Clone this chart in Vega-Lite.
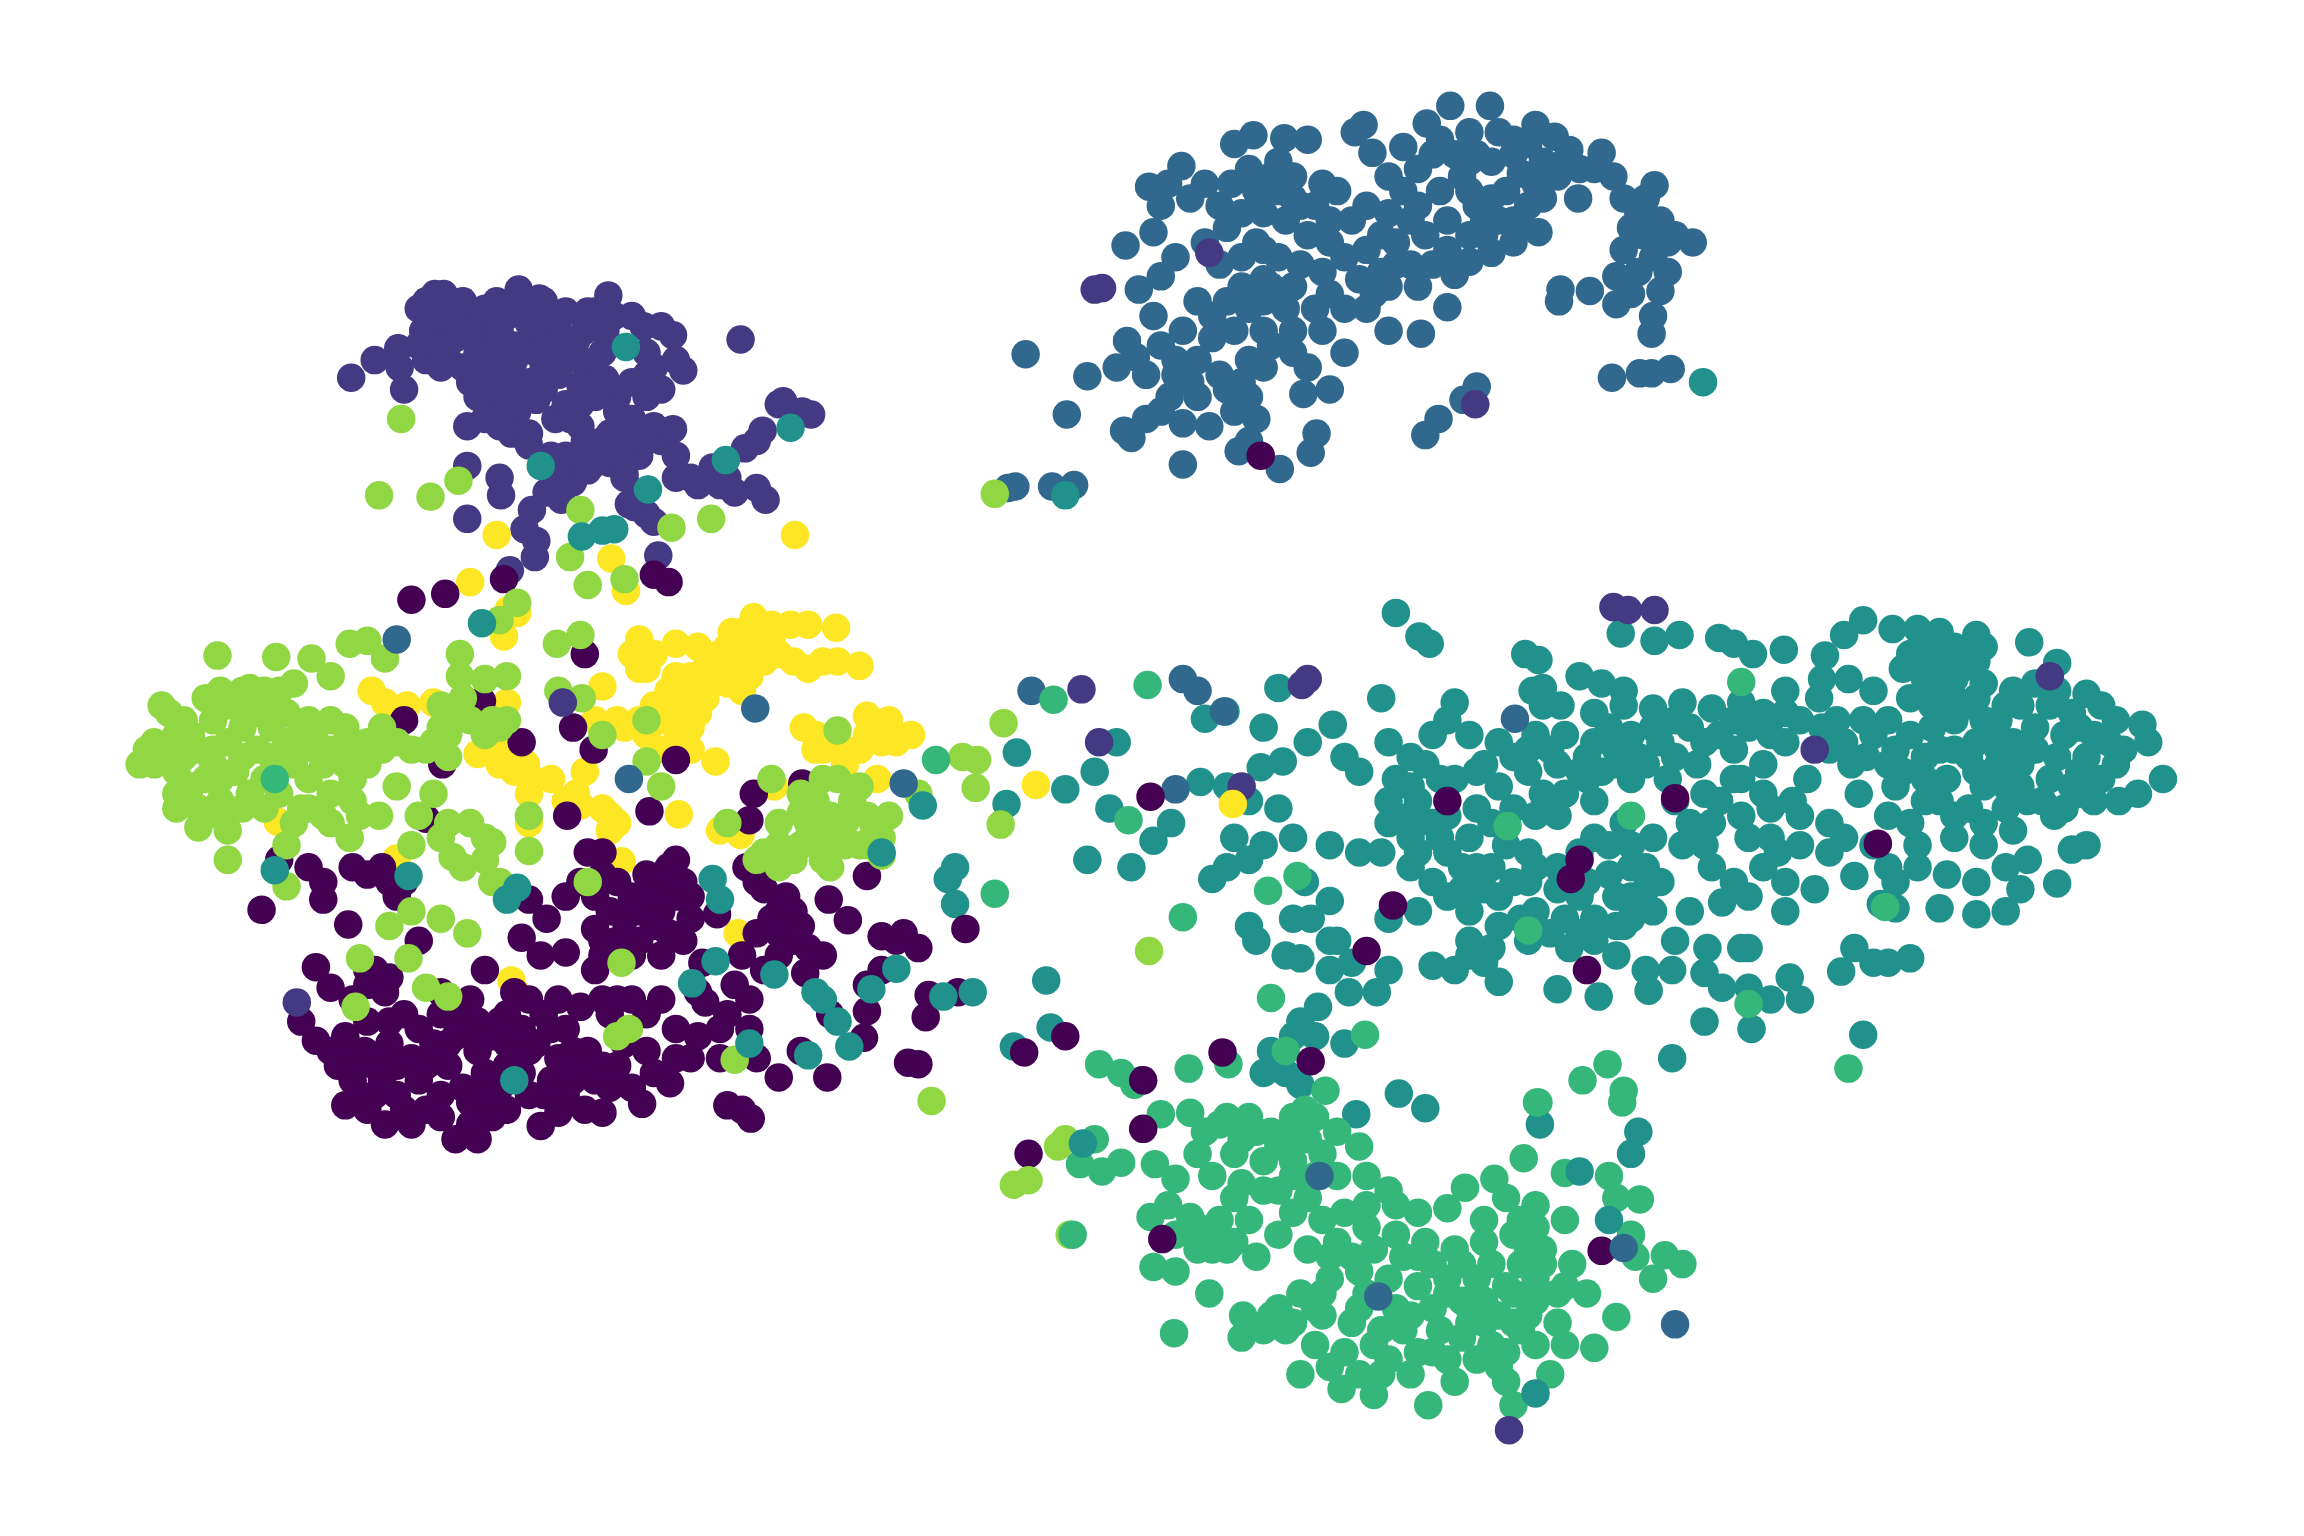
{"$schema":"https://vega.github.io/schema/vega-lite/v6.json","autosize":{"type":"fit","contains":"padding"},"width":2304,"height":1536,"padding":0,"config":{"view":{"stroke":null}},
"data":{"values":[
{"x":1005,"y":105,"c":2},{"x":1030,"y":105,"c":2},{"x":1045,"y":85,"c":2},{"x":990,"y":105,"c":2},{"x":965,"y":140,"c":2},{"x":940,"y":160,"c":2},{"x":915,"y":175,"c":2},{"x":885,"y":140,"c":2},{"x":865,"y":120,"c":2},{"x":845,"y":145,"c":2},{"x":810,"y":135,"c":2},{"x":855,"y":130,"c":2},{"x":895,"y":140,"c":2},{"x":830,"y":140,"c":2},{"x":980,"y":130,"c":2},{"x":1000,"y":130,"c":2},{"x":1030,"y":150,"c":2},{"x":1010,"y":160,"c":2},{"x":985,"y":170,"c":2},{"x":975,"y":180,"c":2},{"x":950,"y":180,"c":2},{"x":935,"y":200,"c":2},{"x":915,"y":210,"c":2},{"x":895,"y":210,"c":2},{"x":880,"y":225,"c":2},{"x":860,"y":250,"c":2},{"x":845,"y":260,"c":2},{"x":825,"y":215,"c":2},{"x":790,"y":235,"c":2},{"x":815,"y":270,"c":2},{"x":800,"y":255,"c":2},{"x":865,"y":195,"c":2},{"x":850,"y":210,"c":2},{"x":835,"y":205,"c":2},{"x":1120,"y":135,"c":2},{"x":1135,"y":165,"c":2},{"x":1110,"y":155,"c":2},{"x":1115,"y":185,"c":2},{"x":1065,"y":110,"c":2},{"x":1075,"y":115,"c":2},{"x":1030,"y":95,"c":2},{"x":1050,"y":135,"c":2},{"x":1035,"y":150,"c":2},{"x":1020,"y":150,"c":2},{"x":1000,"y":160,"c":2},
{"x":290,"y":205,"c":1},{"x":308,"y":210,"c":1},{"x":322,"y":215,"c":1},{"x":338,"y":205,"c":1},{"x":350,"y":205,"c":1},{"x":360,"y":210,"c":1},{"x":295,"y":225,"c":1},{"x":310,"y":220,"c":1},{"x":328,"y":225,"c":1},{"x":350,"y":245,"c":1},{"x":335,"y":245,"c":1},{"x":320,"y":260,"c":1},{"x":305,"y":245,"c":1},{"x":290,"y":245,"c":1},{"x":370,"y":250,"c":1},{"x":385,"y":245,"c":1},{"x":370,"y":265,"c":1},{"x":350,"y":270,"c":1},{"x":335,"y":270,"c":1},{"x":378,"y":285,"c":1},{"x":400,"y":255,"c":1},{"x":412,"y":258,"c":1},{"x":420,"y":270,"c":1},{"x":440,"y":255,"c":1},{"x":445,"y":250,"c":1},{"x":398,"y":300,"c":1},{"x":405,"y":315,"c":1},{"x":435,"y":310,"c":1},{"x":445,"y":290,"c":1},{"x":450,"y":300,"c":1},{"x":365,"y":225,"c":1},{"x":380,"y":225,"c":1},{"x":392,"y":232,"c":1},{"x":405,"y":212,"c":1},{"x":418,"y":215,"c":1},{"x":430,"y":300,"c":1},{"x":415,"y":315,"c":1},{"x":395,"y":290,"c":1},{"x":375,"y":310,"c":1},{"x":375,"y":320,"c":1},{"x":390,"y":328,"c":1},{"x":382,"y":340,"c":1},{"x":490,"y":330,"c":1},{"x":460,"y":325,"c":1},{"x":530,"y":275,"c":1},{"x":515,"y":300,"c":1},{"x":352,"y":280,"c":1},{"x":348,"y":295,"c":1},{"x":325,"y":270,"c":1},{"x":435,"y":335,"c":1},{"x":432,"y":345,"c":1},
{"x":1315,"y":440,"c":3},{"x":1330,"y":440,"c":3},{"x":1340,"y":445,"c":3},{"x":1305,"y":455,"c":3},{"x":1320,"y":455,"c":3},{"x":1335,"y":455,"c":3},{"x":1315,"y":465,"c":3},{"x":1330,"y":475,"c":3},{"x":1345,"y":475,"c":3},{"x":1350,"y":490,"c":3},{"x":1365,"y":480,"c":3},{"x":1375,"y":480,"c":3},{"x":1395,"y":480,"c":3},{"x":1410,"y":485,"c":3},{"x":1415,"y":495,"c":3},{"x":1425,"y":500,"c":3},{"x":1435,"y":505,"c":3},{"x":1445,"y":510,"c":3},{"x":1430,"y":530,"c":3},{"x":1415,"y":525,"c":3},{"x":1400,"y":515,"c":3},{"x":1385,"y":510,"c":3},{"x":1370,"y":505,"c":3},{"x":1355,"y":500,"c":3},{"x":1340,"y":515,"c":3},{"x":1330,"y":510,"c":3},{"x":1350,"y":535,"c":3},{"x":1360,"y":520,"c":3},{"x":1375,"y":535,"c":3},{"x":1390,"y":545,"c":3},{"x":1405,"y":550,"c":3},{"x":1415,"y":540,"c":3},{"x":1320,"y":545,"c":3},{"x":1330,"y":555,"c":3},{"x":1350,"y":560,"c":3},{"x":1365,"y":550,"c":3},{"x":1310,"y":530,"c":3},{"x":1295,"y":525,"c":3},{"x":1285,"y":520,"c":3},{"x":1300,"y":500,"c":3},{"x":1315,"y":495,"c":3},{"x":1275,"y":500,"c":3},{"x":1255,"y":505,"c":3},{"x":1215,"y":485,"c":3},{"x":1205,"y":500,"c":3},{"x":1190,"y":495,"c":3},{"x":1170,"y":500,"c":3},{"x":1150,"y":495,"c":3},{"x":1130,"y":505,"c":3},{"x":1110,"y":500,"c":3},{"x":1085,"y":505,"c":3},{"x":1075,"y":525,"c":3},{"x":1055,"y":510,"c":3},{"x":1040,"y":510,"c":3},{"x":1020,"y":505,"c":3},{"x":1005,"y":525,"c":3},{"x":990,"y":530,"c":3},{"x":970,"y":520,"c":3},{"x":960,"y":535,"c":3},{"x":975,"y":560,"c":3},{"x":960,"y":555,"c":3},{"x":945,"y":560,"c":3},{"x":965,"y":580,"c":3},{"x":980,"y":570,"c":3},{"x":995,"y":590,"c":3},{"x":1015,"y":590,"c":3},{"x":1030,"y":600,"c":3},{"x":1010,"y":605,"c":3},{"x":995,"y":605,"c":3},{"x":975,"y":600,"c":3},{"x":1045,"y":590,"c":3},{"x":1060,"y":605,"c":3},{"x":1075,"y":610,"c":3},{"x":1085,"y":625,"c":3},{"x":1095,"y":595,"c":3},{"x":1110,"y":610,"c":3},{"x":1100,"y":630,"c":3},{"x":1120,"y":605,"c":3},{"x":1075,"y":635,"c":3},{"x":1055,"y":635,"c":3},{"x":1035,"y":625,"c":3},{"x":1015,"y":645,"c":3},{"x":1000,"y":650,"c":3},{"x":1095,"y":575,"c":3},{"x":1110,"y":575,"c":3},{"x":1120,"y":590,"c":3},{"x":1180,"y":530,"c":3},{"x":1170,"y":545,"c":3},{"x":1190,"y":570,"c":3},{"x":1205,"y":570,"c":3},{"x":1165,"y":560,"c":3},{"x":1150,"y":560,"c":3},{"x":1135,"y":530,"c":3},{"x":1155,"y":520,"c":3},{"x":1180,"y":490,"c":3},{"x":1225,"y":555,"c":3},{"x":1210,"y":580,"c":3},{"x":1080,"y":530,"c":3},{"x":1090,"y":525,"c":3},{"x":1100,"y":520,"c":3},{"x":1115,"y":515,"c":3},{"x":1140,"y":490,"c":3},{"x":1125,"y":495,"c":3},{"x":1030,"y":550,"c":3},{"x":1050,"y":540,"c":3},{"x":1015,"y":560,"c":3},
{"x":830,"y":765,"c":4},{"x":845,"y":775,"c":4},{"x":870,"y":780,"c":4},{"x":890,"y":775,"c":4},{"x":855,"y":770,"c":4},{"x":875,"y":775,"c":4},{"x":895,"y":800,"c":4},{"x":880,"y":800,"c":4},{"x":860,"y":810,"c":4},{"x":840,"y":815,"c":4},{"x":825,"y":850,"c":4},{"x":840,"y":845,"c":4},{"x":825,"y":840,"c":4},{"x":815,"y":835,"c":4},{"x":905,"y":855,"c":4},{"x":920,"y":855,"c":4},{"x":935,"y":850,"c":4},{"x":955,"y":855,"c":4},{"x":975,"y":860,"c":4},{"x":995,"y":860,"c":4},{"x":1015,"y":860,"c":4},{"x":1035,"y":860,"c":4},{"x":1050,"y":860,"c":4},{"x":1030,"y":880,"c":4},{"x":1010,"y":885,"c":4},{"x":995,"y":885,"c":4},{"x":975,"y":890,"c":4},{"x":955,"y":905,"c":4},{"x":935,"y":915,"c":4},{"x":915,"y":920,"c":4},{"x":895,"y":915,"c":4},{"x":880,"y":900,"c":4},{"x":865,"y":895,"c":4},{"x":895,"y":890,"c":4},{"x":925,"y":890,"c":4},{"x":975,"y":920,"c":4},{"x":995,"y":910,"c":4},{"x":1015,"y":915,"c":4},{"x":1035,"y":905,"c":4},{"x":1060,"y":880,"c":4},{"x":1040,"y":850,"c":4},{"x":1035,"y":830,"c":4},{"x":1045,"y":835,"c":4},{"x":1010,"y":830,"c":4},{"x":930,"y":820,"c":4},{"x":915,"y":825,"c":4},{"x":965,"y":855,"c":4},{"x":950,"y":820,"c":4},{"x":880,"y":825,"c":4},{"x":900,"y":830,"c":4},{"x":1030,"y":900,"c":4},{"x":1020,"y":930,"c":4},{"x":960,"y":935,"c":4},{"x":940,"y":935,"c":4},
{"x":987,"y":72,"c":2},{"x":971,"y":84,"c":2},{"x":1014,"y":72,"c":2},{"x":980,"y":95,"c":2},{"x":1000,"y":90,"c":2},{"x":1020,"y":90,"c":2},{"x":1040,"y":98,"c":2},{"x":1058,"y":93,"c":2},{"x":1068,"y":102,"c":2},{"x":1090,"y":104,"c":2},{"x":1098,"y":120,"c":2},{"x":1126,"y":126,"c":2},{"x":1105,"y":135,"c":2},{"x":1074,"y":135,"c":2},{"x":1050,"y":110,"c":2},{"x":1035,"y":118,"c":2},{"x":1015,"y":110,"c":2},{"x":995,"y":120,"c":2},{"x":975,"y":105,"c":2},{"x":965,"y":115,"c":2},{"x":955,"y":130,"c":2},{"x":945,"y":145,"c":2},{"x":960,"y":150,"c":2},{"x":930,"y":140,"c":2},{"x":920,"y":150,"c":2},{"x":910,"y":130,"c":2},{"x":928,"y":85,"c":2},{"x":922,"y":90,"c":2},{"x":934,"y":104,"c":2},{"x":900,"y":125,"c":2},{"x":890,"y":95,"c":2},{"x":874,"y":94,"c":2},{"x":880,"y":120,"c":2},{"x":870,"y":110,"c":2},{"x":853,"y":92,"c":2},{"x":840,"y":98,"c":2},{"x":850,"y":115,"c":2},{"x":838,"y":125,"c":2},{"x":804,"y":113,"c":2},{"x":795,"y":125,"c":2},{"x":782,"y":127,"c":2},{"x":790,"y":140,"c":2},{"x":820,"y":125,"c":2},{"x":785,"y":158,"c":2},{"x":766,"y":167,"c":2},{"x":820,"y":165,"c":2},{"x":835,"y":155,"c":2},{"x":860,"y":145,"c":2},{"x":875,"y":150,"c":2},{"x":890,"y":160,"c":2},{"x":905,"y":165,"c":2},{"x":930,"y":170,"c":2},{"x":950,"y":165,"c":2},{"x":970,"y":160,"c":2},{"x":985,"y":150,"c":2},{"x":1005,"y":140,"c":2},{"x":1025,"y":130,"c":2},{"x":1045,"y":125,"c":2},{"x":1047,"y":158,"c":2},{"x":1030,"y":165,"c":2},{"x":1015,"y":172,"c":2},{"x":1000,"y":178,"c":2},{"x":990,"y":187,"c":2},{"x":1115,"y":145,"c":2},{"x":1130,"y":150,"c":2},{"x":1140,"y":160,"c":2},{"x":1152,"y":165,"c":2},{"x":1118,"y":160,"c":2},{"x":1105,"y":170,"c":2},{"x":1125,"y":175,"c":2},{"x":1135,"y":185,"c":2},{"x":1100,"y":188,"c":2},{"x":1110,"y":200,"c":2},{"x":1130,"y":198,"c":2},{"x":1100,"y":207,"c":2},{"x":1062,"y":197,"c":2},{"x":1061,"y":205,"c":2},{"x":1082,"y":198,"c":2},{"x":1125,"y":215,"c":2},{"x":1124,"y":227,"c":2},{"x":1097,"y":257,"c":2},{"x":1116,"y":254,"c":2},{"x":1124,"y":254,"c":2},{"x":1137,"y":251,"c":2},{"x":800,"y":175,"c":2},{"x":790,"y":188,"c":2},{"x":775,"y":197,"c":2},{"x":815,"y":205,"c":2},{"x":785,"y":215,"c":2},{"x":805,"y":225,"c":2},{"x":767,"y":232,"c":2},{"x":773,"y":243,"c":2},{"x":760,"y":250,"c":2},{"x":740,"y":256,"c":2},{"x":698,"y":241,"c":2},{"x":726,"y":282,"c":2},{"x":796,"y":270,"c":2},{"x":790,"y":280,"c":2},{"x":780,"y":285,"c":2},{"x":765,"y":293,"c":2},{"x":770,"y":298,"c":2},{"x":805,"y":288,"c":2},{"x":823,"y":290,"c":2},{"x":805,"y":316,"c":2},{"x":843,"y":307,"c":2},{"x":871,"y":319,"c":2},{"x":892,"y":308,"c":2},{"x":896,"y":295,"c":2},{"x":887,"y":268,"c":2},{"x":905,"y":265,"c":2},{"x":890,"y":250,"c":2},{"x":915,"y":240,"c":2},{"x":930,"y":210,"c":2},{"x":945,"y":225,"c":2},{"x":967,"y":227,"c":2},{"x":985,"y":209,"c":2},{"x":965,"y":195,"c":2},{"x":945,"y":195,"c":2},{"x":925,"y":190,"c":2},{"x":905,"y":200,"c":2},{"x":880,"y":195,"c":2},{"x":860,"y":190,"c":2},{"x":845,"y":175,"c":2},{"x":855,"y":165,"c":2},{"x":870,"y":175,"c":2},{"x":885,"y":180,"c":2},{"x":900,"y":185,"c":2},{"x":860,"y":205,"c":2},{"x":875,"y":210,"c":2},{"x":840,"y":225,"c":2},{"x":825,"y":230,"c":2},{"x":815,"y":245,"c":2},{"x":830,"y":255,"c":2},{"x":850,"y":245,"c":2},{"x":865,"y":235,"c":2},{"x":880,"y":240,"c":2},{"x":900,"y":225,"c":2},{"x":850,"y":270,"c":2},{"x":840,"y":280,"c":2},{"x":855,"y":285,"c":2},{"x":835,"y":265,"c":2},{"x":1005,"y":263,"c":2},{"x":996,"y":272,"c":2},{"x":979,"y":285,"c":2},{"x":970,"y":296,"c":2},{"x":691,"y":331,"c":2},{"x":686,"y":332,"c":2},{"x":716,"y":331,"c":2},{"x":731,"y":330,"c":2},{"x":850,"y":300,"c":2},{"x":1010,"y":150,"c":2},{"x":960,"y":180,"c":2},{"x":940,"y":185,"c":2},{"x":945,"y":120,"c":2},{"x":1040,"y":140,"c":2},{"x":1060,"y":120,"c":2},{"x":1085,"y":115,"c":2},{"x":800,"y":245,"c":2},{"x":780,"y":255,"c":2},{"x":810,"y":260,"c":2},{"x":860,"y":225,"c":2},{"x":845,"y":195,"c":2},{"x":830,"y":180,"c":2},{"x":870,"y":130,"c":2},{"x":880,"y":135,"c":2},{"x":955,"y":100,"c":2},{"x":1000,"y":110,"c":2},{"x":1015,"y":135,"c":2},{"x":905,"y":150,"c":2},{"x":860,"y":170,"c":2},
{"x":296,"y":200,"c":1},{"x":302,"y":200,"c":1},{"x":285,"y":210,"c":1},{"x":288,"y":225,"c":1},{"x":300,"y":215,"c":1},{"x":315,"y":205,"c":1},{"x":330,"y":210,"c":1},{"x":353,"y":197,"c":1},{"x":367,"y":203,"c":1},{"x":345,"y":215,"c":1},{"x":360,"y":220,"c":1},{"x":375,"y":215,"c":1},{"x":385,"y":212,"c":1},{"x":400,"y":212,"c":1},{"x":414,"y":201,"c":1},{"x":398,"y":225,"c":1},{"x":412,"y":225,"c":1},{"x":430,"y":215,"c":1},{"x":438,"y":222,"c":1},{"x":450,"y":222,"c":1},{"x":458,"y":228,"c":1},{"x":440,"y":240,"c":1},{"x":460,"y":245,"c":1},{"x":465,"y":252,"c":1},{"x":504,"y":231,"c":1},{"x":285,"y":235,"c":1},{"x":300,"y":235,"c":1},{"x":320,"y":225,"c":1},{"x":335,"y":235,"c":1},{"x":350,"y":235,"c":1},{"x":365,"y":240,"c":1},{"x":380,"y":235,"c":1},{"x":395,"y":245,"c":1},{"x":410,"y":240,"c":1},{"x":271,"y":237,"c":1},{"x":255,"y":245,"c":1},{"x":239,"y":257,"c":1},{"x":272,"y":250,"c":1},{"x":275,"y":265,"c":1},{"x":300,"y":250,"c":1},{"x":315,"y":250,"c":1},{"x":330,"y":255,"c":1},{"x":345,"y":255,"c":1},{"x":360,"y":260,"c":1},{"x":380,"y":255,"c":1},{"x":395,"y":262,"c":1},{"x":405,"y":270,"c":1},{"x":385,"y":275,"c":1},{"x":365,"y":272,"c":1},{"x":345,"y":280,"c":1},{"x":330,"y":285,"c":1},{"x":318,"y":290,"c":1},{"x":340,"y":290,"c":1},{"x":360,"y":295,"c":1},{"x":360,"y":303,"c":1},{"x":388,"y":285,"c":1},{"x":415,"y":295,"c":1},{"x":430,"y":285,"c":1},{"x":440,"y":270,"c":1},{"x":430,"y":260,"c":1},{"x":450,"y":265,"c":1},{"x":458,"y":292,"c":1},{"x":440,"y":300,"c":1},{"x":420,"y":310,"c":1},{"x":410,"y":300,"c":1},{"x":390,"y":315,"c":1},{"x":400,"y":320,"c":1},{"x":380,"y":322,"c":1},{"x":425,"y":322,"c":1},{"x":460,"y":310,"c":1},{"x":470,"y":325,"c":1},{"x":485,"y":318,"c":1},{"x":495,"y":325,"c":1},{"x":507,"y":305,"c":1},{"x":519,"y":293,"c":1},{"x":533,"y":273,"c":1},{"x":546,"y":280,"c":1},{"x":552,"y":282,"c":1},{"x":515,"y":332,"c":1},{"x":521,"y":340,"c":1},{"x":500,"y":335,"c":1},{"x":475,"y":330,"c":1},{"x":440,"y":350,"c":1},{"x":428,"y":343,"c":1},{"x":425,"y":325,"c":1},{"x":318,"y":317,"c":1},{"x":340,"y":325,"c":1},{"x":341,"y":337,"c":1},{"x":318,"y":353,"c":1},{"x":372,"y":335,"c":1},{"x":362,"y":347,"c":1},{"x":357,"y":360,"c":1},{"x":365,"y":368,"c":1},{"x":364,"y":379,"c":1},{"x":347,"y":388,"c":1},{"x":448,"y":378,"c":1},{"x":445,"y":355,"c":1},{"x":385,"y":310,"c":1},{"x":370,"y":205,"c":1},{"x":325,"y":240,"c":1},{"x":340,"y":225,"c":1},{"x":310,"y":230,"c":1},{"x":395,"y":275,"c":1},{"x":420,"y":280,"c":1},
{"x":950,"y":417,"c":3},{"x":966,"y":433,"c":3},{"x":973,"y":438,"c":3},{"x":1038,"y":445,"c":3},{"x":1047,"y":449,"c":3},{"x":1050,"y":468,"c":3},{"x":1043,"y":470,"c":3},{"x":1075,"y":460,"c":3},{"x":1090,"y":465,"c":3},{"x":1105,"y":470,"c":3},{"x":1103,"y":431,"c":3},{"x":1126,"y":436,"c":3},{"x":1143,"y":432,"c":3},{"x":1170,"y":434,"c":3},{"x":1180,"y":438,"c":3},{"x":1193,"y":445,"c":3},{"x":1214,"y":442,"c":3},{"x":1242,"y":446,"c":3},{"x":1255,"y":432,"c":3},{"x":1268,"y":422,"c":3},{"x":1288,"y":428,"c":3},{"x":1305,"y":428,"c":3},{"x":1320,"y":430,"c":3},{"x":1345,"y":432,"c":3},{"x":1381,"y":437,"c":3},{"x":1400,"y":451,"c":3},{"x":1300,"y":445,"c":3},{"x":1325,"y":445,"c":3},{"x":1345,"y":450,"c":3},{"x":1240,"y":462,"c":3},{"x":1258,"y":462,"c":3},{"x":1275,"y":470,"c":3},{"x":1295,"y":455,"c":3},{"x":1310,"y":462,"c":3},{"x":1330,"y":462,"c":3},{"x":1350,"y":465,"c":3},{"x":1370,"y":470,"c":3},{"x":1385,"y":465,"c":3},{"x":1400,"y":470,"c":3},{"x":1420,"y":472,"c":3},{"x":1430,"y":480,"c":3},{"x":1440,"y":490,"c":3},{"x":1458,"y":493,"c":3},{"x":1462,"y":505,"c":3},{"x":1472,"y":530,"c":3},{"x":1455,"y":540,"c":3},{"x":1442,"y":545,"c":3},{"x":1425,"y":545,"c":3},{"x":1410,"y":535,"c":3},{"x":1395,"y":530,"c":3},{"x":1375,"y":520,"c":3},{"x":1360,"y":510,"c":3},{"x":1345,"y":505,"c":3},{"x":1330,"y":490,"c":3},{"x":1315,"y":480,"c":3},{"x":1300,"y":475,"c":3},{"x":1285,"y":490,"c":3},{"x":1268,"y":490,"c":3},{"x":1250,"y":490,"c":3},{"x":1238,"y":475,"c":3},{"x":1215,"y":470,"c":3},{"x":1200,"y":485,"c":3},{"x":1185,"y":478,"c":3},{"x":1165,"y":482,"c":3},{"x":1145,"y":478,"c":3},{"x":1125,"y":482,"c":3},{"x":1105,"y":480,"c":3},{"x":1085,"y":485,"c":3},{"x":1062,"y":480,"c":3},{"x":1045,"y":500,"c":3},{"x":1030,"y":515,"c":3},{"x":1010,"y":520,"c":3},{"x":990,"y":478,"c":3},{"x":985,"y":490,"c":3},{"x":1000,"y":500,"c":3},{"x":975,"y":500,"c":3},{"x":960,"y":515,"c":3},{"x":945,"y":505,"c":3},{"x":950,"y":530,"c":3},{"x":965,"y":545,"c":3},{"x":985,"y":555,"c":3},{"x":1005,"y":550,"c":3},{"x":1020,"y":535,"c":3},{"x":1040,"y":525,"c":3},{"x":1060,"y":520,"c":3},{"x":1080,"y":515,"c":3},{"x":1100,"y":510,"c":3},{"x":1120,"y":520,"c":3},{"x":1140,"y":515,"c":3},{"x":1160,"y":505,"c":3},{"x":1180,"y":510,"c":3},{"x":1200,"y":520,"c":3},{"x":1215,"y":505,"c":3},{"x":1225,"y":490,"c":3},{"x":1245,"y":510,"c":3},{"x":1270,"y":515,"c":3},{"x":1290,"y":510,"c":3},{"x":1310,"y":515,"c":3},{"x":1325,"y":530,"c":3},{"x":1345,"y":525,"c":3},{"x":1365,"y":535,"c":3},{"x":1380,"y":545,"c":3},{"x":1398,"y":555,"c":3},{"x":1420,"y":575,"c":3},{"x":1410,"y":578,"c":3},{"x":1400,"y":601,"c":3},{"x":1375,"y":605,"c":3},{"x":1365,"y":620,"c":3},{"x":1345,"y":622,"c":3},{"x":1320,"y":618,"c":3},{"x":1290,"y":618,"c":3},{"x":1280,"y":615,"c":3},{"x":1262,"y":596,"c":3},{"x":1285,"y":590,"c":3},{"x":1305,"y":575,"c":3},{"x":1330,"y":570,"c":3},{"x":1350,"y":575,"c":3},{"x":1370,"y":565,"c":3},{"x":1340,"y":550,"c":3},{"x":1310,"y":545,"c":3},{"x":1290,"y":535,"c":3},{"x":1265,"y":540,"c":3},{"x":1245,"y":560,"c":3},{"x":1225,"y":575,"c":3},{"x":1245,"y":580,"c":3},{"x":1235,"y":605,"c":3},{"x":1215,"y":600,"c":3},{"x":1200,"y":590,"c":3},{"x":1180,"y":600,"c":3},{"x":1165,"y":590,"c":3},{"x":1145,"y":575,"c":3},{"x":1125,"y":570,"c":3},{"x":1105,"y":560,"c":3},{"x":1085,"y":545,"c":3},{"x":1065,"y":540,"c":3},{"x":1045,"y":555,"c":3},{"x":1025,"y":575,"c":3},{"x":1005,"y":590,"c":3},{"x":985,"y":580,"c":3},{"x":960,"y":570,"c":3},{"x":940,"y":580,"c":3},{"x":925,"y":580,"c":3},{"x":945,"y":545,"c":3},{"x":925,"y":525,"c":3},{"x":915,"y":515,"c":3},{"x":907,"y":493,"c":3},{"x":890,"y":505,"c":3},{"x":873,"y":518,"c":3},{"x":858,"y":522,"c":3},{"x":850,"y":545,"c":3},{"x":835,"y":535,"c":3},{"x":817,"y":532,"c":3},{"x":797,"y":560,"c":3},{"x":785,"y":572,"c":3},{"x":770,"y":590,"c":3},{"x":755,"y":550,"c":3},{"x":740,"y":585,"c":3},{"x":725,"y":537,"c":3},{"x":745,"y":525,"c":3},{"x":760,"y":505,"c":3},{"x":692,"y":512,"c":3},{"x":685,"y":547,"c":3},{"x":650,"y":590,"c":3},{"x":645,"y":598,"c":3},{"x":650,"y":615,"c":3},{"x":860,"y":495,"c":3},{"x":820,"y":489,"c":3},{"x":834,"y":484,"c":3},{"x":870,"y":468,"c":3},{"x":940,"y":475,"c":3},{"x":1060,"y":555,"c":3},{"x":1085,"y":570,"c":3},{"x":1110,"y":590,"c":3},{"x":1130,"y":600,"c":3},{"x":1160,"y":575,"c":3},{"x":1185,"y":555,"c":3},{"x":1205,"y":550,"c":3},{"x":1220,"y":545,"c":3},{"x":1255,"y":570,"c":3},{"x":1275,"y":575,"c":3},{"x":1215,"y":620,"c":3},{"x":1190,"y":610,"c":3},{"x":1172,"y":614,"c":3},{"x":1150,"y":620,"c":3},{"x":1125,"y":620,"c":3},{"x":1100,"y":610,"c":3},{"x":1080,"y":600,"c":3},{"x":1060,"y":590,"c":3},{"x":1040,"y":600,"c":3},{"x":1020,"y":610,"c":3},{"x":1000,"y":620,"c":3},{"x":985,"y":610,"c":3},{"x":965,"y":620,"c":3},{"x":945,"y":625,"c":3},{"x":1000,"y":640,"c":3},{"x":1020,"y":630,"c":3},{"x":1045,"y":620,"c":3},{"x":1065,"y":625,"c":3},{"x":1085,"y":640,"c":3},{"x":1105,"y":630,"c":3},{"x":1140,"y":640,"c":3},{"x":1162,"y":645,"c":3},{"x":1185,"y":645,"c":3},{"x":1190,"y":645,"c":3},{"x":1190,"y":672,"c":3},{"x":1172,"y":672,"c":3},{"x":1160,"y":662,"c":3},{"x":1138,"y":660,"c":3},{"x":1120,"y":660,"c":3},{"x":1100,"y":650,"c":3},{"x":1068,"y":645,"c":3},{"x":1040,"y":640,"c":3},{"x":1010,"y":655,"c":3},{"x":990,"y":660,"c":3},{"x":975,"y":657,"c":3},{"x":1020,"y":668,"c":3},{"x":1060,"y":673,"c":3},{"x":1088,"y":678,"c":3},{"x":1122,"y":674,"c":3},{"x":1160,"y":695,"c":3},{"x":1192,"y":700,"c":3},{"x":1205,"y":680,"c":3},{"x":1218,"y":665,"c":3},{"x":1225,"y":680,"c":3},{"x":1253,"y":661,"c":3},{"x":1262,"y":645,"c":3},{"x":1275,"y":655,"c":3},{"x":1285,"y":655,"c":3},{"x":1300,"y":652,"c":3},{"x":1268,"y":704,"c":3},{"x":1138,"y":720,"c":3},{"x":1290,"y":600,"c":3},{"x":1305,"y":590,"c":3},{"x":1325,"y":595,"c":3},{"x":1345,"y":600,"c":3},{"x":1365,"y":590,"c":3},{"x":1380,"y":585,"c":3},{"x":1240,"y":495,"c":3},{"x":1260,"y":520,"c":3},{"x":1230,"y":530,"c":3},{"x":1185,"y":530,"c":3},{"x":1160,"y":540,"c":3},{"x":1140,"y":545,"c":3},{"x":1110,"y":530,"c":3},{"x":1095,"y":495,"c":3},{"x":1065,"y":500,"c":3},{"x":1050,"y":480,"c":3},{"x":1320,"y":510,"c":3},{"x":1340,"y":480,"c":3},{"x":1360,"y":490,"c":3},{"x":1385,"y":495,"c":3},{"x":1405,"y":500,"c":3},{"x":1420,"y":515,"c":3},{"x":1440,"y":520,"c":3},{"x":1300,"y":560,"c":3},{"x":1285,"y":555,"c":3},{"x":1320,"y":470,"c":3},{"x":1350,"y":440,"c":3},{"x":1110,"y":625,"c":3},{"x":1040,"y":580,"c":3},{"x":1000,"y":570,"c":3},{"x":980,"y":530,"c":3},{"x":960,"y":590,"c":3},{"x":1075,"y":580,"c":3},{"x":1200,"y":540,"c":3},{"x":880,"y":570,"c":3},{"x":860,"y":575,"c":3},{"x":850,"y":585,"c":3},{"x":835,"y":590,"c":3},{"x":825,"y":598,"c":3},{"x":840,"y":570,"c":3},{"x":870,"y":550,"c":3},{"x":905,"y":575,"c":3},{"x":888,"y":600,"c":3},{"x":905,"y":613,"c":3},{"x":880,"y":625,"c":3},{"x":892,"y":625,"c":3},{"x":850,"y":630,"c":3},{"x":855,"y":640,"c":3},{"x":875,"y":650,"c":3},{"x":885,"y":652,"c":3},{"x":905,"y":640,"c":3},{"x":910,"y":640,"c":3},{"x":905,"y":660,"c":3},{"x":918,"y":675,"c":3},{"x":937,"y":675,"c":3},{"x":945,"y":660,"c":3},{"x":920,"y":655,"c":3},{"x":897,"y":685,"c":3},{"x":885,"y":695,"c":3},{"x":895,"y":705,"c":3},{"x":880,"y":705,"c":3},{"x":915,"y":710,"c":3},{"x":865,"y":715,"c":3},{"x":860,"y":730,"c":3},{"x":885,"y":738,"c":3},{"x":875,"y":730,"c":3},{"x":952,"y":744,"c":3},{"x":970,"y":754,"c":3},{"x":923,"y":758,"c":3},{"x":777,"y":735,"c":3},{"x":712,"y":667,"c":3},{"x":715,"y":699,"c":3},{"x":690,"y":712,"c":3},
{"x":790,"y":758,"c":4},{"x":810,"y":757,"c":4},{"x":820,"y":770,"c":4},{"x":815,"y":785,"c":4},{"x":835,"y":760,"c":4},{"x":850,"y":760,"c":4},{"x":865,"y":770,"c":4},{"x":880,"y":760,"c":4},{"x":895,"y":760,"c":4},{"x":910,"y":770,"c":4},{"x":925,"y":780,"c":4},{"x":900,"y":785,"c":4},{"x":880,"y":790,"c":4},{"x":860,"y":790,"c":4},{"x":840,"y":785,"c":4},{"x":825,"y":800,"c":4},{"x":845,"y":805,"c":4},{"x":870,"y":810,"c":4},{"x":890,"y":815,"c":4},{"x":910,"y":800,"c":4},{"x":930,"y":800,"c":4},{"x":945,"y":810,"c":4},{"x":965,"y":825,"c":4},{"x":985,"y":822,"c":4},{"x":997,"y":808,"c":4},{"x":1017,"y":802,"c":4},{"x":1037,"y":788,"c":4},{"x":1025,"y":815,"c":4},{"x":1045,"y":820,"c":4},{"x":1065,"y":830,"c":4},{"x":1050,"y":850,"c":4},{"x":1030,"y":840,"c":4},{"x":1010,"y":845,"c":4},{"x":990,"y":850,"c":4},{"x":970,"y":845,"c":4},{"x":950,"y":840,"c":4},{"x":930,"y":835,"c":4},{"x":910,"y":845,"c":4},{"x":890,"y":850,"c":4},{"x":870,"y":840,"c":4},{"x":850,"y":830,"c":4},{"x":830,"y":830,"c":4},{"x":810,"y":828,"c":4},{"x":795,"y":820,"c":4},{"x":783,"y":828,"c":4},{"x":800,"y":840,"c":4},{"x":815,"y":850,"c":4},{"x":835,"y":850,"c":4},{"x":855,"y":855,"c":4},{"x":785,"y":862,"c":4},{"x":800,"y":865,"c":4},{"x":823,"y":880,"c":4},{"x":846,"y":895,"c":4},{"x":870,"y":890,"c":4},{"x":885,"y":880,"c":4},{"x":905,"y":870,"c":4},{"x":925,"y":865,"c":4},{"x":945,"y":870,"c":4},{"x":965,"y":875,"c":4},{"x":985,"y":880,"c":4},{"x":1005,"y":870,"c":4},{"x":1025,"y":875,"c":4},{"x":1045,"y":870,"c":4},{"x":1065,"y":875,"c":4},{"x":1080,"y":880,"c":4},{"x":1100,"y":896,"c":4},{"x":1060,"y":900,"c":4},{"x":1040,"y":895,"c":4},{"x":1020,"y":895,"c":4},{"x":1000,"y":900,"c":4},{"x":980,"y":905,"c":4},{"x":960,"y":895,"c":4},{"x":940,"y":905,"c":4},{"x":920,"y":900,"c":4},{"x":900,"y":895,"c":4},{"x":875,"y":905,"c":4},{"x":860,"y":905,"c":4},{"x":845,"y":910,"c":4},{"x":799,"y":907,"c":4},{"x":885,"y":935,"c":4},{"x":905,"y":930,"c":4},{"x":925,"y":935,"c":4},{"x":945,"y":925,"c":4},{"x":965,"y":920,"c":4},{"x":985,"y":925,"c":4},{"x":1005,"y":925,"c":4},{"x":1025,"y":920,"c":4},{"x":1045,"y":915,"c":4},{"x":1065,"y":915,"c":4},{"x":1085,"y":917,"c":4},{"x":1055,"y":935,"c":4},{"x":1025,"y":940,"c":4},{"x":990,"y":940,"c":4},{"x":972,"y":956,"c":4},{"x":935,"y":949,"c":4},{"x":913,"y":945,"c":4},{"x":1030,"y":956,"c":4},{"x":1116,"y":816,"c":4},{"x":1095,"y":800,"c":4},{"x":1100,"y":815,"c":4},{"x":1065,"y":798,"c":4},{"x":1047,"y":750,"c":4},{"x":1077,"y":735,"c":4},{"x":1094,"y":724,"c":4},{"x":1105,"y":742,"c":4},{"x":1104,"y":750,"c":4},{"x":1113,"y":855,"c":4},{"x":1133,"y":854,"c":4},{"x":1145,"y":860,"c":4},{"x":1125,"y":870,"c":4},{"x":1110,"y":840,"c":4},{"x":800,"y":802,"c":4},{"x":786,"y":792,"c":4},{"x":763,"y":791,"c":4},{"x":750,"y":797,"c":4},{"x":735,"y":792,"c":4},{"x":745,"y":775,"c":4},{"x":748,"y":724,"c":4},{"x":763,"y":730,"c":4},{"x":772,"y":738,"c":4},{"x":809,"y":727,"c":4},{"x":836,"y":724,"c":4},{"x":875,"y":715,"c":4},{"x":902,"y":742,"c":4},{"x":888,"y":755,"c":4},{"x":1000,"y":890,"c":4},{"x":950,"y":890,"c":4},{"x":900,"y":880,"c":4},{"x":930,"y":880,"c":4},{"x":1010,"y":900,"c":4},{"x":1045,"y":885,"c":4},{"x":1070,"y":860,"c":4},{"x":985,"y":870,"c":4},
{"x":1095,"y":830,"c":3},{"x":1110,"y":785,"c":3},{"x":1115,"y":770,"c":3},{"x":1075,"y":797,"c":3},{"x":1048,"y":765,"c":3},{"x":1045,"y":948,"c":3},
{"x":505,"y":430,"c":6},{"x":520,"y":435,"c":6},{"x":495,"y":440,"c":6},{"x":525,"y":435,"c":6},{"x":505,"y":450,"c":6},{"x":520,"y":450,"c":6},{"x":490,"y":445,"c":6},{"x":480,"y":455,"c":6},{"x":495,"y":465,"c":6},{"x":505,"y":470,"c":6},{"x":485,"y":465,"c":6},{"x":470,"y":475,"c":6},{"x":465,"y":470,"c":6},{"x":475,"y":485,"c":6},{"x":455,"y":485,"c":6},{"x":445,"y":480,"c":6},{"x":470,"y":495,"c":6},{"x":435,"y":490,"c":6},{"x":425,"y":495,"c":6},{"x":430,"y":445,"c":6},{"x":445,"y":445,"c":6},{"x":460,"y":460,"c":6},{"x":560,"y":450,"c":6},{"x":555,"y":500,"c":6},{"x":585,"y":510,"c":6},{"x":600,"y":505,"c":6},{"x":575,"y":510,"c":6},{"x":590,"y":500,"c":6},{"x":610,"y":505,"c":6},{"x":340,"y":510,"c":6},{"x":350,"y":525,"c":6},{"x":362,"y":530,"c":6},{"x":392,"y":540,"c":6},{"x":345,"y":520,"c":6},{"x":410,"y":550,"c":6},{"x":420,"y":560,"c":6},
{"x":253,"y":470,"c":6},{"x":262,"y":478,"c":6},{"x":277,"y":480,"c":6},{"x":295,"y":478,"c":6},{"x":320,"y":396,"c":6},{"x":338,"y":364,"c":6},{"x":416,"y":380,"c":6},{"x":426,"y":402,"c":6},{"x":541,"y":364,"c":6},{"x":346,"y":415,"c":6},{"x":343,"y":433,"c":6},{"x":352,"y":417,"c":6},{"x":435,"y":435,"c":6},{"x":460,"y":438,"c":6},{"x":475,"y":440,"c":6},{"x":498,"y":430,"c":6},{"x":513,"y":420,"c":6},{"x":525,"y":425,"c":6},{"x":538,"y":425,"c":6},{"x":550,"y":425,"c":6},{"x":569,"y":427,"c":6},{"x":500,"y":445,"c":6},{"x":515,"y":445,"c":6},{"x":530,"y":445,"c":6},{"x":490,"y":455,"c":6},{"x":510,"y":460,"c":6},{"x":470,"y":460,"c":6},{"x":455,"y":470,"c":6},{"x":435,"y":455,"c":6},{"x":480,"y":475,"c":6},{"x":465,"y":490,"c":6},{"x":450,"y":490,"c":6},{"x":440,"y":500,"c":6},{"x":420,"y":490,"c":6},{"x":405,"y":490,"c":6},{"x":585,"y":453,"c":6},{"x":570,"y":450,"c":6},{"x":550,"y":455,"c":6},{"x":540,"y":450,"c":6},{"x":487,"y":518,"c":6},{"x":547,"y":495,"c":6},{"x":555,"y":510,"c":6},{"x":590,"y":487,"c":6},{"x":605,"y":490,"c":6},{"x":620,"y":500,"c":6},{"x":597,"y":530,"c":6},{"x":575,"y":520,"c":6},{"x":560,"y":510,"c":6},{"x":470,"y":510,"c":6},{"x":460,"y":505,"c":6},{"x":448,"y":510,"c":6},{"x":325,"y":513,"c":6},{"x":340,"y":520,"c":6},{"x":358,"y":520,"c":6},{"x":375,"y":530,"c":6},{"x":398,"y":525,"c":6},{"x":360,"y":540,"c":6},{"x":360,"y":560,"c":6},{"x":385,"y":545,"c":6},{"x":395,"y":548,"c":6},{"x":415,"y":555,"c":6},{"x":415,"y":565,"c":6},{"x":462,"y":554,"c":6},{"x":490,"y":565,"c":6},{"x":504,"y":568,"c":6},{"x":527,"y":535,"c":6},{"x":423,"y":586,"c":6},{"x":270,"y":584,"c":6},{"x":189,"y":559,"c":6},{"x":705,"y":534,"c":6},{"x":502,"y":635,"c":6},{"x":348,"y":667,"c":6},{"x":351,"y":675,"c":6},{"x":410,"y":467,"c":6},{"x":345,"y":478,"c":6},{"x":440,"y":455,"c":6},{"x":595,"y":498,"c":6},
{"x":225,"y":715,"c":0},{"x":240,"y":720,"c":0},{"x":255,"y":725,"c":0},{"x":265,"y":710,"c":0},{"x":280,"y":720,"c":0},{"x":295,"y":710,"c":0},{"x":310,"y":705,"c":0},{"x":325,"y":695,"c":0},{"x":340,"y":695,"c":0},{"x":355,"y":700,"c":0},{"x":365,"y":710,"c":0},{"x":380,"y":720,"c":0},{"x":390,"y":735,"c":0},{"x":405,"y":735,"c":0},{"x":415,"y":740,"c":0},{"x":425,"y":710,"c":0},{"x":445,"y":730,"c":0},{"x":460,"y":720,"c":0},{"x":330,"y":730,"c":0},{"x":345,"y":725,"c":0},{"x":315,"y":740,"c":0},{"x":330,"y":745,"c":0},{"x":345,"y":755,"c":0},{"x":360,"y":745,"c":0},{"x":290,"y":755,"c":0},{"x":300,"y":760,"c":0},{"x":320,"y":765,"c":0},{"x":335,"y":760,"c":0},{"x":280,"y":765,"c":0},{"x":270,"y":745,"c":0},{"x":245,"y":745,"c":0},{"x":250,"y":755,"c":0},{"x":265,"y":695,"c":0},{"x":250,"y":695,"c":0},{"x":240,"y":680,"c":0},{"x":255,"y":660,"c":0},{"x":275,"y":690,"c":0},{"x":375,"y":700,"c":0},{"x":390,"y":715,"c":0},{"x":410,"y":725,"c":0},{"x":370,"y":745,"c":0},{"x":385,"y":745,"c":0},{"x":360,"y":715,"c":0},{"x":335,"y":705,"c":0},{"x":305,"y":710,"c":0},{"x":290,"y":725,"c":0},{"x":260,"y":735,"c":0},{"x":230,"y":725,"c":0},{"x":310,"y":690,"c":0},{"x":325,"y":700,"c":0},{"x":380,"y":680,"c":0},{"x":395,"y":685,"c":0},{"x":415,"y":690,"c":0},{"x":430,"y":680,"c":0},{"x":440,"y":690,"c":0},{"x":350,"y":675,"c":0},{"x":360,"y":680,"c":0},{"x":475,"y":675,"c":0},{"x":495,"y":690,"c":0},{"x":435,"y":620,"c":0},{"x":445,"y":605,"c":0},{"x":460,"y":610,"c":0},{"x":445,"y":630,"c":0},{"x":425,"y":625,"c":0},{"x":455,"y":635,"c":0},{"x":470,"y":625,"c":0},{"x":430,"y":650,"c":0},{"x":410,"y":650,"c":0},{"x":420,"y":640,"c":0},{"x":530,"y":635,"c":0},{"x":540,"y":620,"c":0},{"x":530,"y":650,"c":0},{"x":540,"y":640,"c":0},{"x":550,"y":645,"c":0},{"x":525,"y":625,"c":0},{"x":410,"y":595,"c":0},{"x":420,"y":600,"c":0},{"x":395,"y":600,"c":0},{"x":450,"y":600,"c":0},{"x":460,"y":585,"c":0},{"x":405,"y":610,"c":0},{"x":410,"y":640,"c":0},{"x":505,"y":650,"c":0},{"x":520,"y":660,"c":0},{"x":590,"y":670,"c":0},{"x":610,"y":640,"c":0},{"x":535,"y":610,"c":0},{"x":515,"y":600,"c":0},{"x":275,"y":600,"c":0},{"x":220,"y":600,"c":0},{"x":260,"y":590,"c":0},{"x":250,"y":660,"c":0},{"x":265,"y":665,"c":0},{"x":490,"y":720,"c":0},{"x":470,"y":720,"c":0},{"x":500,"y":670,"c":0},
{"x":280,"y":408,"c":0},{"x":303,"y":404,"c":0},{"x":343,"y":394,"c":0},{"x":445,"y":391,"c":0},{"x":455,"y":396,"c":0},{"x":398,"y":445,"c":0},{"x":328,"y":477,"c":0},{"x":275,"y":490,"c":0},{"x":330,"y":497,"c":0},{"x":390,"y":495,"c":0},{"x":355,"y":505,"c":0},{"x":301,"y":520,"c":0},{"x":404,"y":510,"c":0},{"x":460,"y":517,"c":0},{"x":290,"y":557,"c":0},{"x":386,"y":555,"c":0},{"x":442,"y":552,"c":0},{"x":513,"y":540,"c":0},{"x":546,"y":533,"c":0},{"x":510,"y":558,"c":0},{"x":400,"y":580,"c":0},{"x":410,"y":580,"c":0},{"x":440,"y":595,"c":0},{"x":455,"y":590,"c":0},{"x":465,"y":600,"c":0},{"x":430,"y":610,"c":0},{"x":450,"y":620,"c":0},{"x":470,"y":610,"c":0},{"x":415,"y":620,"c":0},{"x":360,"y":612,"c":0},{"x":385,"y":610,"c":0},{"x":372,"y":625,"c":0},{"x":355,"y":638,"c":0},{"x":368,"y":650,"c":0},{"x":385,"y":648,"c":0},{"x":405,"y":632,"c":0},{"x":405,"y":660,"c":0},{"x":420,"y":680,"c":0},{"x":435,"y":640,"c":0},{"x":450,"y":650,"c":0},{"x":465,"y":640,"c":0},{"x":478,"y":655,"c":0},{"x":488,"y":622,"c":0},{"x":515,"y":635,"c":0},{"x":530,"y":620,"c":0},{"x":545,"y":630,"c":0},{"x":560,"y":650,"c":0},{"x":548,"y":662,"c":0},{"x":508,"y":590,"c":0},{"x":520,"y":605,"c":0},{"x":590,"y":596,"c":0},{"x":564,"y":612,"c":0},{"x":577,"y":626,"c":0},{"x":600,"y":637,"c":0},{"x":615,"y":635,"c":0},{"x":625,"y":645,"c":0},{"x":600,"y":660,"c":0},{"x":657,"y":632,"c":0},{"x":632,"y":677,"c":0},{"x":630,"y":692,"c":0},{"x":652,"y":675,"c":0},{"x":618,"y":723,"c":0},{"x":625,"y":724,"c":0},{"x":725,"y":705,"c":0},{"x":697,"y":716,"c":0},{"x":778,"y":735,"c":0},{"x":778,"y":768,"c":0},{"x":700,"y":785,"c":0},{"x":791,"y":843,"c":0},{"x":832,"y":716,"c":0},{"x":892,"y":722,"c":0},{"x":930,"y":647,"c":0},{"x":1080,"y":660,"c":0},{"x":1090,"y":851,"c":0},{"x":178,"y":619,"c":0},{"x":220,"y":612,"c":0},{"x":237,"y":629,"c":0},{"x":215,"y":658,"c":0},{"x":225,"y":672,"c":0},{"x":240,"y":590,"c":0},{"x":250,"y":595,"c":0},{"x":265,"y":600,"c":0},{"x":270,"y":610,"c":0},{"x":285,"y":640,"c":0},{"x":210,"y":590,"c":0},{"x":190,"y":585,"c":0},{"x":250,"y":670,"c":0},{"x":262,"y":675,"c":0},{"x":205,"y":695,"c":0},{"x":215,"y":708,"c":0},{"x":235,"y":705,"c":0},{"x":248,"y":715,"c":0},{"x":240,"y":735,"c":0},{"x":235,"y":752,"c":0},{"x":262,"y":765,"c":0},{"x":255,"y":745,"c":0},{"x":270,"y":725,"c":0},{"x":285,"y":700,"c":0},{"x":300,"y":690,"c":0},{"x":320,"y":680,"c":0},{"x":330,"y":660,"c":0},{"x":345,"y":690,"c":0},{"x":370,"y":690,"c":0},{"x":385,"y":700,"c":0},{"x":410,"y":680,"c":0},{"x":345,"y":710,"c":0},{"x":325,"y":715,"c":0},{"x":305,"y":725,"c":0},{"x":285,"y":735,"c":0},{"x":275,"y":755,"c":0},{"x":300,"y":745,"c":0},{"x":320,"y":750,"c":0},{"x":310,"y":775,"c":0},{"x":325,"y":775,"c":0},{"x":368,"y":766,"c":0},{"x":380,"y":757,"c":0},{"x":340,"y":740,"c":0},{"x":355,"y":730,"c":0},{"x":375,"y":735,"c":0},{"x":395,"y":730,"c":0},{"x":398,"y":755,"c":0},{"x":410,"y":757,"c":0},{"x":437,"y":751,"c":0},{"x":456,"y":737,"c":0},{"x":430,"y":740,"c":0},{"x":420,"y":725,"c":0},{"x":400,"y":715,"c":0},{"x":440,"y":715,"c":0},{"x":460,"y":700,"c":0},{"x":475,"y":705,"c":0},{"x":490,"y":700,"c":0},{"x":480,"y":682,"c":0},{"x":510,"y":700,"c":0},{"x":515,"y":720,"c":0},{"x":530,"y":733,"c":0},{"x":563,"y":733,"c":0},{"x":545,"y":715,"c":0},{"x":565,"y":690,"c":0},{"x":590,"y":688,"c":0},{"x":505,"y":755,"c":0},{"x":495,"y":752,"c":0},{"x":511,"y":761,"c":0},{"x":588,"y":706,"c":0},{"x":510,"y":680,"c":0},{"x":450,"y":680,"c":0},{"x":300,"y":675,"c":0},
{"x":120,"y":500,"c":5},{"x":110,"y":515,"c":5},{"x":130,"y":500,"c":5},{"x":125,"y":515,"c":5},{"x":105,"y":520,"c":5},{"x":130,"y":535,"c":5},{"x":145,"y":510,"c":5},{"x":145,"y":520,"c":5},{"x":150,"y":530,"c":5},{"x":165,"y":495,"c":5},{"x":165,"y":515,"c":5},{"x":185,"y":495,"c":5},{"x":205,"y":495,"c":5},{"x":185,"y":515,"c":5},{"x":205,"y":510,"c":5},{"x":225,"y":490,"c":5},{"x":240,"y":505,"c":5},{"x":225,"y":510,"c":5},{"x":235,"y":520,"c":5},{"x":180,"y":550,"c":5},{"x":165,"y":470,"c":5},{"x":180,"y":470,"c":5},{"x":160,"y":480,"c":5},{"x":185,"y":480,"c":5},{"x":140,"y":475,"c":5},{"x":210,"y":530,"c":5},{"x":170,"y":540,"c":5},{"x":135,"y":550,"c":5},{"x":150,"y":555,"c":5},{"x":240,"y":545,"c":5},{"x":225,"y":560,"c":5},{"x":195,"y":575,"c":5},{"x":210,"y":550,"c":5},{"x":120,"y":540,"c":5},{"x":335,"y":490,"c":5},{"x":250,"y":520,"c":5},{"x":260,"y":510,"c":5},{"x":280,"y":510,"c":5},{"x":300,"y":495,"c":5},{"x":310,"y":490,"c":5},{"x":295,"y":505,"c":5},{"x":305,"y":515,"c":5},{"x":340,"y":495,"c":5},{"x":320,"y":560,"c":5},{"x":300,"y":570,"c":5},{"x":330,"y":570,"c":5},{"x":315,"y":590,"c":5},{"x":335,"y":600,"c":5},{"x":550,"y":560,"c":5},{"x":555,"y":545,"c":5},{"x":565,"y":555,"c":5},{"x":575,"y":560,"c":5},{"x":575,"y":575,"c":5},{"x":595,"y":565,"c":5},{"x":590,"y":575,"c":5},{"x":600,"y":582,"c":5},{"x":550,"y":570,"c":5},{"x":530,"y":575,"c":5},{"x":515,"y":585,"c":5},{"x":530,"y":590,"c":5},{"x":570,"y":530,"c":5},{"x":585,"y":535,"c":5},{"x":545,"y":540,"c":5},{"x":560,"y":585,"c":5},
{"x":148,"y":446,"c":5},{"x":188,"y":447,"c":5},{"x":212,"y":448,"c":5},{"x":225,"y":460,"c":5},{"x":238,"y":438,"c":5},{"x":250,"y":436,"c":5},{"x":262,"y":448,"c":5},{"x":313,"y":445,"c":5},{"x":313,"y":460,"c":5},{"x":330,"y":462,"c":5},{"x":345,"y":460,"c":5},{"x":100,"y":510,"c":5},{"x":95,"y":520,"c":5},{"x":105,"y":505,"c":5},{"x":115,"y":485,"c":5},{"x":110,"y":480,"c":5},{"x":125,"y":490,"c":5},{"x":150,"y":470,"c":5},{"x":170,"y":468,"c":5},{"x":190,"y":470,"c":5},{"x":200,"y":465,"c":5},{"x":155,"y":480,"c":5},{"x":175,"y":485,"c":5},{"x":195,"y":485,"c":5},{"x":210,"y":490,"c":5},{"x":145,"y":490,"c":5},{"x":135,"y":510,"c":5},{"x":155,"y":505,"c":5},{"x":175,"y":510,"c":5},{"x":195,"y":505,"c":5},{"x":215,"y":505,"c":5},{"x":235,"y":495,"c":5},{"x":250,"y":505,"c":5},{"x":120,"y":525,"c":5},{"x":140,"y":530,"c":5},{"x":160,"y":525,"c":5},{"x":180,"y":530,"c":5},{"x":200,"y":520,"c":5},{"x":220,"y":520,"c":5},{"x":120,"y":550,"c":5},{"x":135,"y":563,"c":5},{"x":155,"y":565,"c":5},{"x":150,"y":545,"c":5},{"x":165,"y":550,"c":5},{"x":155,"y":585,"c":5},{"x":195,"y":603,"c":5},{"x":190,"y":540,"c":5},{"x":205,"y":550,"c":5},{"x":225,"y":540,"c":5},{"x":240,"y":530,"c":5},{"x":200,"y":560,"c":5},{"x":220,"y":555,"c":5},{"x":245,"y":555,"c":5},{"x":258,"y":555,"c":5},{"x":238,"y":570,"c":5},{"x":270,"y":535,"c":5},{"x":290,"y":510,"c":5},{"x":305,"y":500,"c":5},{"x":320,"y":490,"c":5},{"x":300,"y":480,"c":5},{"x":315,"y":475,"c":5},{"x":330,"y":500,"c":5},{"x":345,"y":490,"c":5},{"x":270,"y":505,"c":5},{"x":260,"y":495,"c":5},{"x":295,"y":540,"c":5},{"x":285,"y":555,"c":5},{"x":305,"y":560,"c":5},{"x":280,"y":575,"c":5},{"x":335,"y":573,"c":5},{"x":330,"y":585,"c":5},{"x":340,"y":600,"c":5},{"x":308,"y":583,"c":5},{"x":360,"y":579,"c":5},{"x":265,"y":630,"c":5},{"x":280,"y":620,"c":5},{"x":300,"y":625,"c":5},{"x":318,"y":635,"c":5},{"x":305,"y":678,"c":5},{"x":242,"y":685,"c":5},{"x":273,"y":285,"c":5},{"x":258,"y":337,"c":5},{"x":457,"y":359,"c":5},{"x":388,"y":379,"c":5},{"x":400,"y":398,"c":5},{"x":425,"y":394,"c":5},{"x":352,"y":410,"c":5},{"x":340,"y":422,"c":5},{"x":379,"y":438,"c":5},{"x":396,"y":475,"c":5},{"x":380,"y":470,"c":5},{"x":410,"y":500,"c":5},{"x":440,"y":490,"c":5},{"x":625,"y":540,"c":5},{"x":655,"y":515,"c":5},{"x":665,"y":517,"c":5},{"x":664,"y":536,"c":5},{"x":683,"y":492,"c":5},{"x":681,"y":561,"c":5},{"x":545,"y":553,"c":5},{"x":560,"y":530,"c":5},{"x":525,"y":530,"c":5},{"x":520,"y":580,"c":5},{"x":530,"y":560,"c":5},{"x":545,"y":575,"c":5},{"x":565,"y":590,"c":5},{"x":585,"y":575,"c":5},{"x":600,"y":570,"c":5},{"x":590,"y":555,"c":5},{"x":605,"y":555,"c":5},{"x":580,"y":545,"c":5},{"x":560,"y":570,"c":5},{"x":540,"y":585,"c":5},{"x":450,"y":535,"c":5},{"x":440,"y":518,"c":5},{"x":360,"y":555,"c":5},{"x":400,"y":600,"c":5},{"x":495,"y":560,"c":5},{"x":634,"y":749,"c":5},{"x":782,"y":647,"c":5},{"x":677,"y":336,"c":5},{"x":720,"y":780,"c":5},{"x":728,"y":840,"c":5},{"x":690,"y":806,"c":5},{"x":700,"y":803,"c":5},{"x":725,"y":775,"c":5},
{"x":245,"y":652,"c":5},{"x":278,"y":652,"c":5},{"x":290,"y":672,"c":5},{"x":423,"y":655,"c":5},{"x":428,"y":700,"c":5},{"x":420,"y":705,"c":5},{"x":500,"y":721,"c":5},{"x":293,"y":338,"c":5},{"x":312,"y":327,"c":5},{"x":395,"y":347,"c":5},{"x":484,"y":353,"c":5},{"x":570,"y":497,"c":5},{"x":395,"y":432,"c":5},
{"x":426,"y":236,"c":3},{"x":538,"y":291,"c":3},{"x":494,"y":313,"c":3},{"x":368,"y":317,"c":3},{"x":441,"y":333,"c":3},{"x":396,"y":365,"c":3},{"x":410,"y":361,"c":3},{"x":418,"y":360,"c":3},{"x":328,"y":424,"c":3},{"x":1108,"y":415,"c":1},{"x":1098,"y":413,"c":1},{"x":1126,"y":415,"c":1},{"x":886,"y":466,"c":1},{"x":890,"y":462,"c":1},{"x":736,"y":469,"c":1},{"x":702,"y":470,"c":2},{"x":805,"y":462,"c":2},{"x":815,"y":470,"c":2},{"x":833,"y":484,"c":2},{"x":270,"y":435,"c":2},{"x":514,"y":482,"c":2},{"x":1004,"y":275,"c":1},{"x":750,"y":196,"c":1},{"x":745,"y":197,"c":1},{"x":823,"y":172,"c":1},{"x":202,"y":682,"c":1},{"x":1235,"y":510,"c":1},{"x":1395,"y":460,"c":1},{"x":800,"y":537,"c":2},{"x":845,"y":535,"c":1},{"x":748,"y":505,"c":1},{"x":1031,"y":489,"c":2},{"x":938,"y":882,"c":2},{"x":1140,"y":901,"c":2},{"x":898,"y":800,"c":2},{"x":1027,"y":973,"c":1},{"x":615,"y":533,"c":2},{"x":383,"y":478,"c":1},{"x":1105,"y":849,"c":2},{"x":428,"y":530,"c":2},{"x":1040,"y":633,"c":4},{"x":781,"y":466,"c":4},{"x":717,"y":476,"c":4},{"x":768,"y":558,"c":4},{"x":863,"y":606,"c":4},{"x":883,"y":596,"c":4},{"x":805,"y":624,"c":4},{"x":677,"y":608,"c":4},{"x":865,"y":679,"c":4},{"x":929,"y":704,"c":4},{"x":1258,"y":727,"c":4},{"x":1110,"y":555,"c":4},{"x":637,"y":517,"c":4},{"x":187,"y":530,"c":4},{"x":1185,"y":464,"c":4},{"x":1283,"y":617,"c":4},{"x":1026,"y":562,"c":4},{"x":1190,"y":683,"c":4},{"x":1046,"y":750,"c":4},{"x":730,"y":840,"c":4},{"x":737,"y":778,"c":3},{"x":350,"y":735,"c":3},{"x":471,"y":669,"c":3},{"x":487,"y":654,"c":3},{"x":527,"y":663,"c":3},{"x":490,"y":612,"c":3},{"x":485,"y":598,"c":3},{"x":345,"y":612,"c":3},{"x":352,"y":604,"c":3},{"x":278,"y":596,"c":3},{"x":187,"y":592,"c":3},{"x":550,"y":718,"c":3},{"x":510,"y":710,"c":3},{"x":560,"y":680,"c":3},{"x":570,"y":695,"c":3},{"x":578,"y":712,"c":3},{"x":593,"y":673,"c":3},{"x":610,"y":659,"c":3},{"x":642,"y":678,"c":3},{"x":662,"y":675,"c":3},{"x":555,"y":675,"c":3},{"x":628,"y":548,"c":3},{"x":600,"y":580,"c":3},{"x":725,"y":337,"c":3},{"x":1159,"y":260,"c":3},{"x":839,"y":547,"c":6},{"x":858,"y":310,"c":0},{"x":985,"y":545,"c":0},{"x":1140,"y":543,"c":0},{"x":1069,"y":598,"c":0},{"x":1075,"y":585,"c":0},{"x":1278,"y":574,"c":0},{"x":948,"y":616,"c":0},{"x":783,"y":542,"c":0}
]},
"mark":{"type":"circle","opacity":1,"size":812},
"encoding":{
"x":{"field":"x","type":"quantitative","scale":{"domain":[0,1568]},"axis":null},
"y":{"field":"y","type":"quantitative","scale":{"domain":[1045,0]},"axis":null},
"color":{"field":"c","type":"ordinal","scale":{"domain":[0,1,2,3,4,5,6],"range":["#440154","#443983","#31688e","#21918c","#35b779","#90d743","#fde725"]},"legend":null}
}}
